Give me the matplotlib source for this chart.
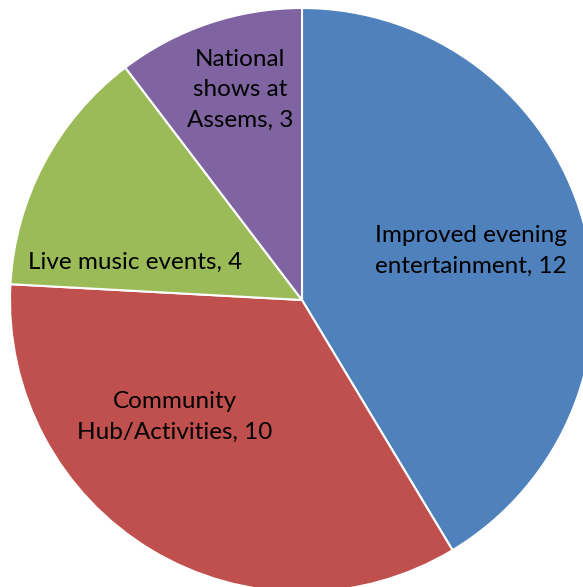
import matplotlib.pyplot as plt

categories = ['Improved evening\nentertainment', 'Community\nHub/Activities',
              'Live music events', 'National\nshows at\nAssems']
values = [12, 10, 4, 3]
colors = ['#4F81BD', '#C0504D', '#9BBB59', '#8064A2']

# label centres in pixel coords (x from left, y from top)
label_pos = [(471, 251), (175, 417), (135, 262), (240, 90)]

W, H = 583, 587
fig = plt.figure(figsize=(W / 100, H / 100), dpi=100)
ax = fig.add_axes([0, 0, 1, 1])

ax.pie(values, colors=colors, startangle=90, counterclock=False,
       center=(302, H - 300), radius=292,
       wedgeprops=dict(edgecolor='white', linewidth=1.5))

for cat, val, (x, y) in zip(categories, values, label_pos):
    ax.text(x, H - y, f'{cat}, {val}', ha='center', va='center',
            fontsize=17.5, family='Lato', color='black', linespacing=1.55)

ax.set_xlim(0, W)
ax.set_ylim(0, H)
ax.set_aspect('equal')
ax.axis('off')

fig.savefig('out.png', dpi=100, facecolor='white')
